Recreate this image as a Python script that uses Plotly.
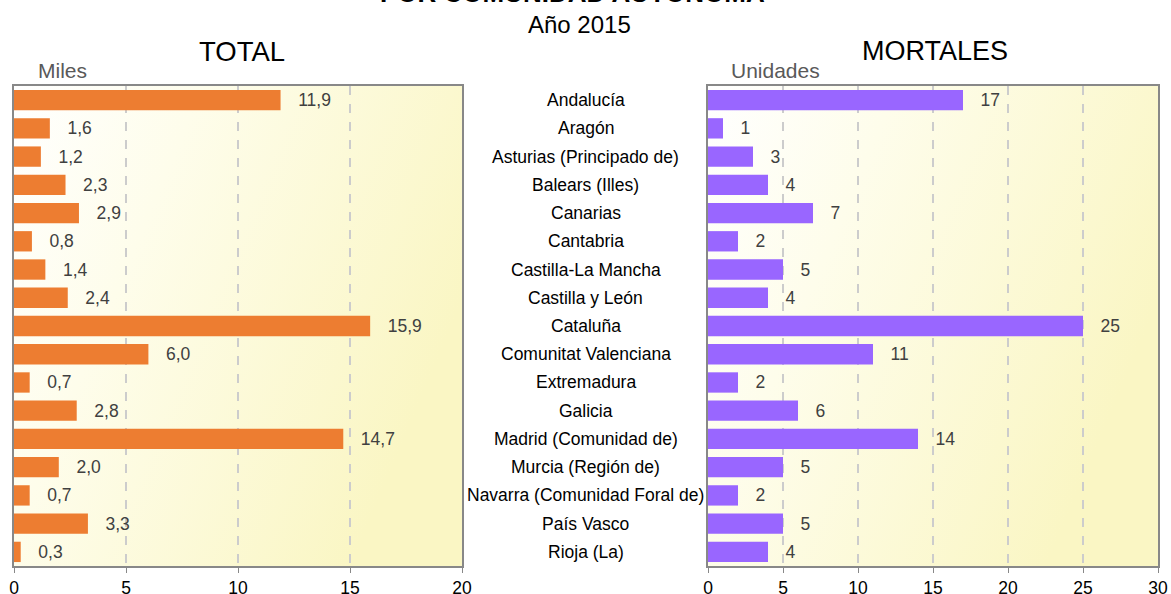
import base64
import plotly.graph_objects as go

categories = ["Andalucía", "Aragón", "Asturias (Principado de)", "Balears (Illes)", "Canarias",
              "Cantabria", "Castilla-La Mancha", "Castilla y León", "Cataluña",
              "Comunitat Valenciana", "Extremadura", "Galicia", "Madrid (Comunidad de)",
              "Murcia (Región de)", "Navarra (Comunidad Foral de)", "País Vasco", "Rioja (La)"]
total_miles = [11.9, 1.6, 1.2, 2.3, 2.9, 0.8, 1.4, 2.4, 15.9, 6.0, 0.7, 2.8, 14.7, 2.0, 0.7, 3.3, 0.3]
mortales = [17, 1, 3, 4, 7, 2, 5, 4, 25, 11, 2, 6, 14, 5, 2, 5, 4]
total_ticks = [0, 5, 10, 15, 20]
mort_ticks = [0, 5, 10, 15, 20, 25, 30]

W, H = 1171, 594
FONT = "Liberation Sans, Arial, sans-serif"
NB = "\u00a0"

# plot area pixel boxes
Lx0, Lx1 = 14, 462
Rx0, Rx1 = 708, 1158
Y0, Y1 = 86, 566
dom = lambda a, b: [a / W, b / W]
ydom = [(H - Y1) / H, (H - Y0) / H]

fig = go.Figure()
fig.add_trace(go.Bar(
    x=total_miles, y=categories, orientation="h", xaxis="x", yaxis="y",
    marker=dict(color="#ED7D31", line=dict(width=0)),
    text=[NB * 3 + f"{v:.1f}".replace(".", ",") for v in total_miles],
    textposition="outside", cliponaxis=False,
    textfont=dict(family=FONT, size=17.5, color="#404040"),
    hoverinfo="x+y"))
fig.add_trace(go.Bar(
    x=mortales, y=categories, orientation="h", xaxis="x2", yaxis="y2",
    marker=dict(color="#9966FF", line=dict(width=0)),
    text=[NB * 3 + str(v) for v in mortales],
    textposition="outside", cliponaxis=False,
    textfont=dict(family=FONT, size=17.5, color="#404040"),
    hoverinfo="x+y"))

svg = ('<svg xmlns="http://www.w3.org/2000/svg" width="200" height="200" preserveAspectRatio="none">'
       '<defs><linearGradient id="g" x1="0" y1="0" x2="1" y2="0.45">'
       '<stop offset="0" stop-color="#FFFFFF"/><stop offset="0.35" stop-color="#FEFDEB"/>'
       '<stop offset="1" stop-color="#FAF6C4"/></linearGradient></defs>'
       '<rect width="200" height="200" fill="url(#g)"/></svg>')
src = "data:image/svg+xml;base64," + base64.b64encode(svg.encode()).decode()

images = []
for a, b in [(Lx0, Lx1), (Rx0, Rx1)]:
    images.append(dict(source=src, xref="paper", yref="paper", x=a / W, y=ydom[1],
                       sizex=(b - a) / W, sizey=ydom[1] - ydom[0], sizing="stretch",
                       xanchor="left", yanchor="top", layer="below"))

axis_common = dict(showline=True, linecolor="#888888", linewidth=1.5, mirror=True,
                   showgrid=True, gridcolor="#CCCCCC", griddash="dash", gridwidth=1.5,
                   ticks="outside", ticklen=5, tickcolor="#888888", zeroline=False,
                   automargin=False,
                   tickfont=dict(family=FONT, size=17.5, color="#000000"))
yaxis_common = dict(showline=True, linecolor="#888888", linewidth=1.5, mirror=True,
                    showticklabels=False, showgrid=False, ticks="", autorange="reversed",
                    automargin=False, domain=ydom)

ann = []
for c in categories:
    ann.append(dict(text=c, x=0.5004, xref="paper", y=c, yref="y", showarrow=False,
                    font=dict(family=FONT, size=17.5, color="#000000"), xanchor="center"))


def top_text(text, xc, yc, size, color="#000000", xanchor="center", yanchor="middle"):
    return dict(text=text, x=xc / W, xref="paper", y=(H - yc) / H, yref="paper",
                xanchor=xanchor, yanchor=yanchor, showarrow=False,
                font=dict(family=FONT, size=size, color=color))


ann += [
    top_text("<b>POR COMUNIDAD AUTÓNOMA</b>", 572, 10, 26, yanchor="bottom"),
    top_text("Año 2015", 579, 24, 24),
    top_text("TOTAL", 242, 51, 27.5),
    top_text("MORTALES", 935, 51, 27),
    top_text("Miles", 36, 71, 21, color="#595959", xanchor="left"),
    top_text("Unidades", 729, 71, 21, color="#595959", xanchor="left"),
]

fig.update_layout(
    width=W, height=H,
    margin=dict(l=0, r=0, t=0, b=0, autoexpand=False),
    paper_bgcolor="white", plot_bgcolor="rgba(0,0,0,0)",
    showlegend=False, bargap=0.28,
    font=dict(family=FONT),
    xaxis=dict(domain=dom(Lx0, Lx1), range=[0, 20], tickvals=total_ticks, anchor="y", **axis_common),
    yaxis=dict(anchor="x", **yaxis_common),
    xaxis2=dict(domain=dom(Rx0, Rx1), range=[0, 30], tickvals=mort_ticks, anchor="y2", **axis_common),
    yaxis2=dict(anchor="x2", **yaxis_common),
    images=images,
    annotations=ann,
)

fig.write_html("out.html", config={"displayModeBar": False},
               post_script="document.body.style.margin='0';document.body.style.overflow='hidden';")
